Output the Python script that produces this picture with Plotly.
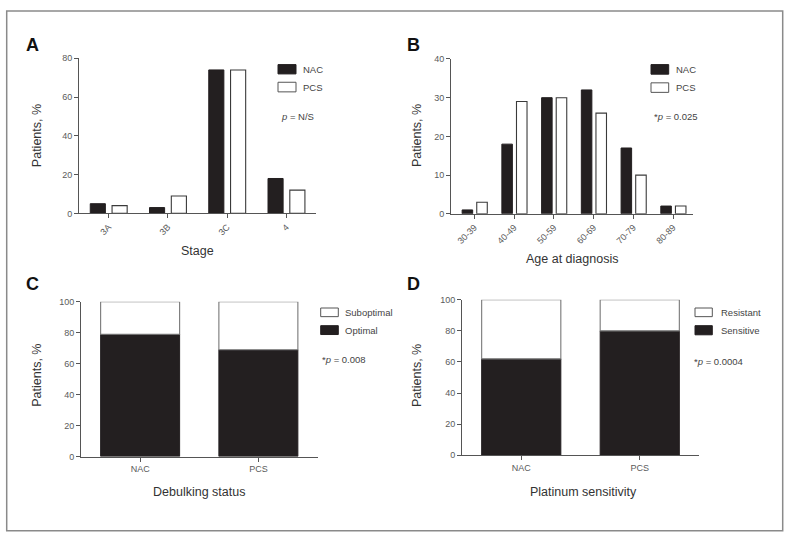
import plotly.graph_objects as go

W, H = 790, 543

# ---------------- data ----------------
stage_cats = ["3A", "3B", "3C", "4"]
stage_nac = [5, 3, 74, 18]
stage_pcs = [4, 9, 74, 12]

age_cats = ["30-39", "40-49", "50-59", "60-69", "70-79", "80-89"]
age_nac = [1, 18, 30, 32, 17, 2]
age_pcs = [3, 29, 30, 26, 10, 2]

groups = ["NAC", "PCS"]
debulk_optimal = [79, 69]
debulk_suboptimal = [21, 31]

plat_sensitive = [62, 80]
plat_resistant = [38, 20]

# ---------------- style ----------------
BLACK = "#231f20"
OUT = "#3a3a3a"
AXC = "#555555"
TICKC = "#5a5a5a"
FONT = "Liberation Sans"


def px(x):
    return x / W


def py(y):
    return 1 - y / H


fig = go.Figure()

BW = 0.255
# Panel A
fig.add_trace(go.Bar(x=stage_cats, y=stage_nac, width=BW, offset=-0.31,
                     marker=dict(color=BLACK, line=dict(color=BLACK, width=1)),
                     xaxis="x", yaxis="y", showlegend=False, name="NAC"))
fig.add_trace(go.Bar(x=stage_cats, y=stage_pcs, width=BW, offset=0.058,
                     marker=dict(color="white", line=dict(color=OUT, width=1.1)),
                     xaxis="x", yaxis="y", showlegend=False, name="PCS"))
# Panel B
fig.add_trace(go.Bar(x=age_cats, y=age_nac, width=0.265, offset=-0.31,
                     marker=dict(color=BLACK, line=dict(color=BLACK, width=1)),
                     xaxis="x2", yaxis="y2", showlegend=False, name="NAC"))
fig.add_trace(go.Bar(x=age_cats, y=age_pcs, width=0.265, offset=0.058,
                     marker=dict(color="white", line=dict(color=OUT, width=1.1)),
                     xaxis="x2", yaxis="y2", showlegend=False, name="PCS"))
# Panel C
fig.add_trace(go.Bar(x=groups, y=debulk_optimal, width=0.668,
                     marker=dict(color=BLACK, line=dict(color=BLACK, width=1)),
                     xaxis="x3", yaxis="y3", showlegend=False, name="Optimal"))
fig.add_trace(go.Bar(x=groups, y=debulk_suboptimal, base=debulk_optimal, width=0.668,
                     marker=dict(color="white", line=dict(color="#777777", width=1.1)),
                     xaxis="x3", yaxis="y3", showlegend=False, name="Suboptimal"))
# Panel D
fig.add_trace(go.Bar(x=groups, y=plat_sensitive, width=0.668,
                     marker=dict(color=BLACK, line=dict(color=BLACK, width=1)),
                     xaxis="x4", yaxis="y4", showlegend=False, name="Sensitive"))
fig.add_trace(go.Bar(x=groups, y=plat_resistant, base=plat_sensitive, width=0.668,
                     marker=dict(color="white", line=dict(color="#777777", width=1.1)),
                     xaxis="x4", yaxis="y4", showlegend=False, name="Resistant"))


def xaxis(dom, rng, angle):
    return dict(domain=[px(dom[0]), px(dom[1])], range=rng, type="category",
                showline=True, linecolor=AXC, linewidth=1, ticks="outside",
                ticklen=4, tickcolor=AXC, tickwidth=1, showgrid=False, zeroline=False,
                tickangle=angle, tickfont=dict(family=FONT, size=9, color=TICKC),
                fixedrange=True)


def yaxis(dom, rng, dt, anchor):
    return dict(domain=[py(dom[1]), py(dom[0])], range=rng, dtick=dt, anchor=anchor,
                showline=True, linecolor=AXC, linewidth=1, ticks="outside",
                ticklen=4, tickcolor=AXC, tickwidth=1, showgrid=False, zeroline=False,
                tickfont=dict(family=FONT, size=9, color=TICKC), fixedrange=True)


fig.update_layout(
    width=W, height=H, margin=dict(l=0, r=0, t=0, b=0),
    paper_bgcolor="white", plot_bgcolor="white", barmode="overlay",
    font=dict(family=FONT, color="#333333"), hovermode=False,
    xaxis=dict(xaxis((79, 316), [-0.5, 3.5], -45), anchor="y"),
    yaxis=yaxis((54.3, 212.3), [0, 80], 20, "x"),
    xaxis2=dict(xaxis((451, 693), [-0.59, 5.5], -45), anchor="y2"),
    yaxis2=yaxis((55, 212.7), [0, 40], 10, "x2"),
    xaxis3=dict(xaxis((81, 317.5), [-0.5, 1.5], 0), anchor="y3"),
    yaxis3=yaxis((302.3, 460), [0, 100], 20, "x3"),
    xaxis4=dict(xaxis((462, 699), [-0.5, 1.5], 0), anchor="y4"),
    yaxis4=yaxis((300.3, 458.7), [0, 100], 20, "x4"),
)

shapes = []
annotations = []

# outer frame
shapes.append(dict(type="rect", xref="paper", yref="paper",
                   x0=px(6.7), x1=px(782.7), y0=py(535.7), y1=py(6),
                   line=dict(color="#8a8a8a", width=1.5), fillcolor="rgba(0,0,0,0)"))


def swatch(x0, x1, y0, y1, filled):
    shapes.append(dict(type="rect", xref="paper", yref="paper",
                       x0=px(x0), x1=px(x1), y0=py(y1), y1=py(y0),
                       fillcolor=BLACK if filled else "white",
                       line=dict(color=BLACK if filled else "#555555", width=1)))


def text(x, y, s, size=9.5, color="#444444", xanchor="left", angle=0):
    annotations.append(dict(xref="paper", yref="paper", x=px(x), y=py(y), text=s,
                            showarrow=False, xanchor=xanchor, yanchor="middle",
                            textangle=angle,
                            font=dict(family=FONT, size=size, color=color)))


# legends
swatch(278, 296, 60.7, 70.2, True)
text(301, 65.5, "NAC")
swatch(278, 296, 78.7, 88.5, False)
text(301, 83.6, "PCS")
text(278.5, 114, "<i>p</i> = N/S")

swatch(651, 668.7, 60.7, 70.5, True)
text(673.5, 65.6, "NAC")
swatch(651, 668.7, 79.3, 89, False)
text(673.5, 84.1, "PCS")
text(651.5, 113.7, "*<i>p</i> = 0.025")

swatch(320.7, 338.3, 308.7, 317.5, False)
text(342.5, 313, "Suboptimal")
swatch(320.7, 338.3, 326.7, 335.7, True)
text(342.5, 331.2, "Optimal")
text(320, 361, "*<i>p</i> = 0.008")

swatch(695, 712.3, 308.7, 317.5, False)
text(719, 313, "Resistant")
swatch(695, 712.3, 326.7, 336, True)
text(719, 331.4, "Sensitive")
text(691.5, 363.3, "*<i>p</i> = 0.0004")

# axis titles
TC = "#333333"
text(197.5, 251, "Stage", size=12.5, color=TC, xanchor="center")
text(572, 259, "Age at diagnosis", size=12.5, color=TC, xanchor="center")
text(198.5, 496, "Debulking status", size=12.5, color=TC, xanchor="center")
text(583, 496, "Platinum sensitivity", size=12.5, color=TC, xanchor="center")
text(37.3, 133.3, "Patients, %", size=12.5, color=TC, xanchor="center", angle=-90)
text(417, 133.5, "Patients, %", size=12.5, color=TC, xanchor="center", angle=-90)
text(36.7, 377, "Patients, %", size=12.5, color=TC, xanchor="center", angle=-90)
text(417, 378, "Patients, %", size=12.5, color=TC, xanchor="center", angle=-90)

# panel letters
LETTER = dict(family=FONT + ", Arial", size=18, color="#111111", weight="bold")
for lx, ly, s in [(32.5, 40.5, "A"), (413, 40.5, "B"), (32, 284, "C"), (413, 284.5, "D")]:
    annotations.append(dict(xref="paper", yref="paper", x=px(lx), y=py(ly), text=s,
                            showarrow=False, xanchor="center", yanchor="middle",
                            font=LETTER))

fig.update_layout(shapes=shapes, annotations=annotations)
fig.write_html("out.html", config={"displayModeBar": False, "staticPlot": True},
               post_script="document.body.style.margin='0px';document.body.style.padding='0px';")
